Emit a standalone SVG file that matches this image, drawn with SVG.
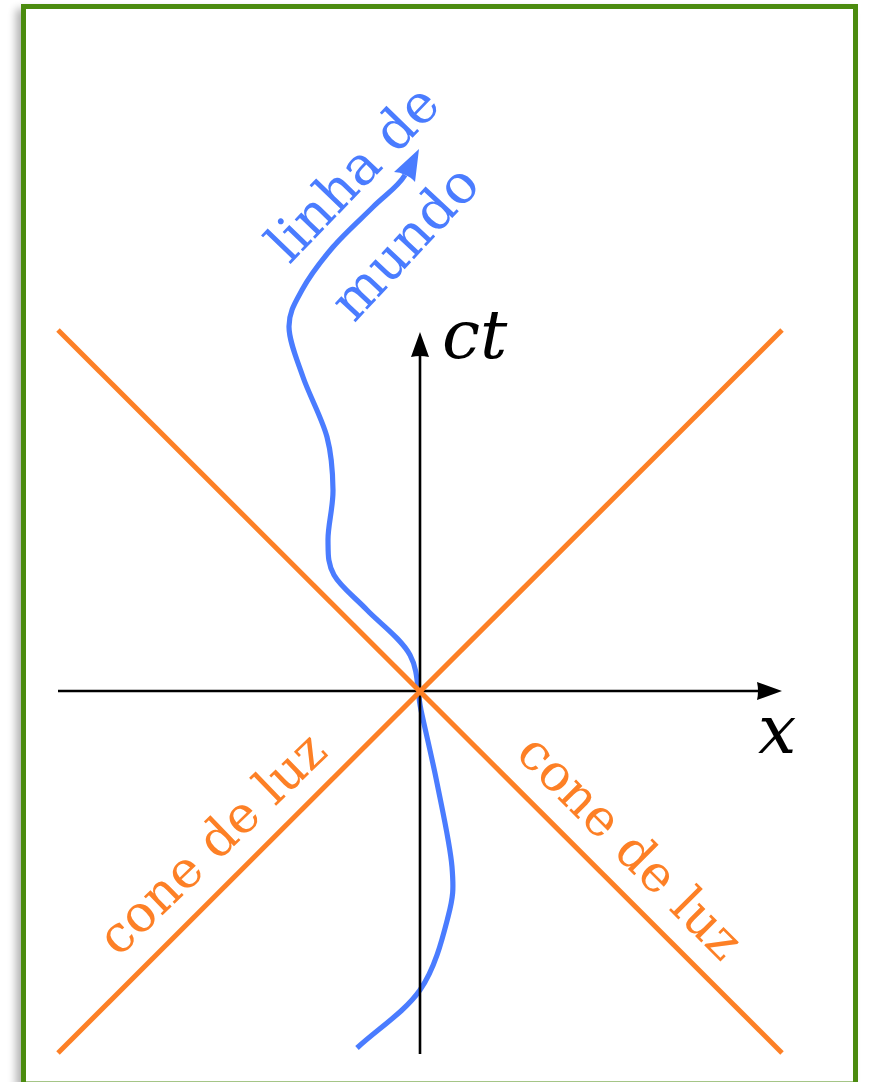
<svg xmlns="http://www.w3.org/2000/svg" width="869" height="1082" viewBox="0 0 869 1082">
  <defs>
    <style>
      .axis { stroke: #000; stroke-width: 2.6; fill: none; }
      .cone { stroke: #fd8026; stroke-width: 5; fill: none; stroke-linecap: butt; }
      .world { stroke: #4a7cff; stroke-width: 5.2; fill: none; }
      .lblO { fill: #fd8026; font-size: 51px; }
      .lblB { fill: #4a7cff; font-size: 54px; }
      .math { fill: #000; font-style: italic; font-size: 68px; }
    </style>
    <marker id="ah" markerUnits="userSpaceOnUse" markerWidth="30" markerHeight="20" viewBox="0 0 30 20" refX="13" refY="10" orient="auto">
      <path d="M0,1 L25,10 L0,19 Q2,10 0,1 Z" fill="#000"/>
    </marker>
    <filter id="sh" x="-5%" y="-5%" width="110%" height="110%">
      <feGaussianBlur stdDeviation="4"/>
    </filter>
  </defs>

  <rect width="869" height="1082" fill="#ffffff"/>
  <g id="frame">
    <rect x="16" y="9" width="836" height="1080" fill="#000" opacity="0.3" filter="url(#sh)"/>
    <rect x="23.5" y="6.5" width="832" height="1077.5" fill="#ffffff" stroke="#4b8b0f" stroke-width="5"/>
  </g>

  <g id="world-line">
    <path class="world" d="M357,1048 C378,1028.7 404.8,1011.8 420,990 C435.2,968.2 442.7,937.5 448,917 C453.3,896.5 453.8,889.3 452,867 C450.2,844.7 442.2,809.2 437,783 C431.8,756.8 425.5,731.3 421,710 C416.5,688.7 419,671.7 410,655 C401,638.3 379.7,623.3 367,610 C354.3,596.7 340.5,586.7 334,575 C327.5,563.3 328.2,554.2 328,540 C327.8,525.8 333.2,507.2 333,490 C332.8,472.8 332,455.8 327,437 C322,418.2 309.3,395.3 303,377 C296.7,358.7 289.2,341.5 289,327 C288.8,312.5 294.7,303.3 302,290 C309.3,276.7 321.2,260.8 333,247 C344.8,233.2 361.2,218.8 373,207 C384.8,195.2 398,187 405,175"/>
    <path d="M419,149 L394,172 Q400,172 405,175 Q411,177 415,182 Z" fill="#4a7cff"/>
  </g>

  <g id="axes">
    <line class="axis" x1="58" y1="691" x2="770" y2="691" marker-end="url(#ah)"/>
    <line class="axis" x1="420" y1="1054" x2="420" y2="344" marker-end="url(#ah)"/>
  </g>

  <g id="light-cone">
    <line class="cone" x1="58" y1="330" x2="782" y2="1053"/>
    <line class="cone" x1="782" y1="330" x2="58" y2="1053"/>
  </g>

  <g id="labels" font-family="DejaVu Serif, serif">
    <text class="math" font-family="DejaVu Serif, serif" x="442" y="358">ct</text>
    <text class="math" font-family="DejaVu Serif, serif" x="758" y="753">x</text>
    <text class="lblB" font-family="DejaVu Serif, serif" text-anchor="middle" transform="translate(366,186) rotate(-46)">linha de</text>
    <text class="lblB" font-family="DejaVu Serif, serif" text-anchor="middle" transform="translate(418,255) rotate(-47)">mundo</text>
    <text class="lblO" font-family="DejaVu Serif, serif" text-anchor="middle" transform="translate(224,856) rotate(-44)">cone de luz</text>
    <text class="lblO" font-family="DejaVu Serif, serif" text-anchor="middle" transform="translate(618,859) rotate(45)">cone de luz</text>
  </g>
</svg>
